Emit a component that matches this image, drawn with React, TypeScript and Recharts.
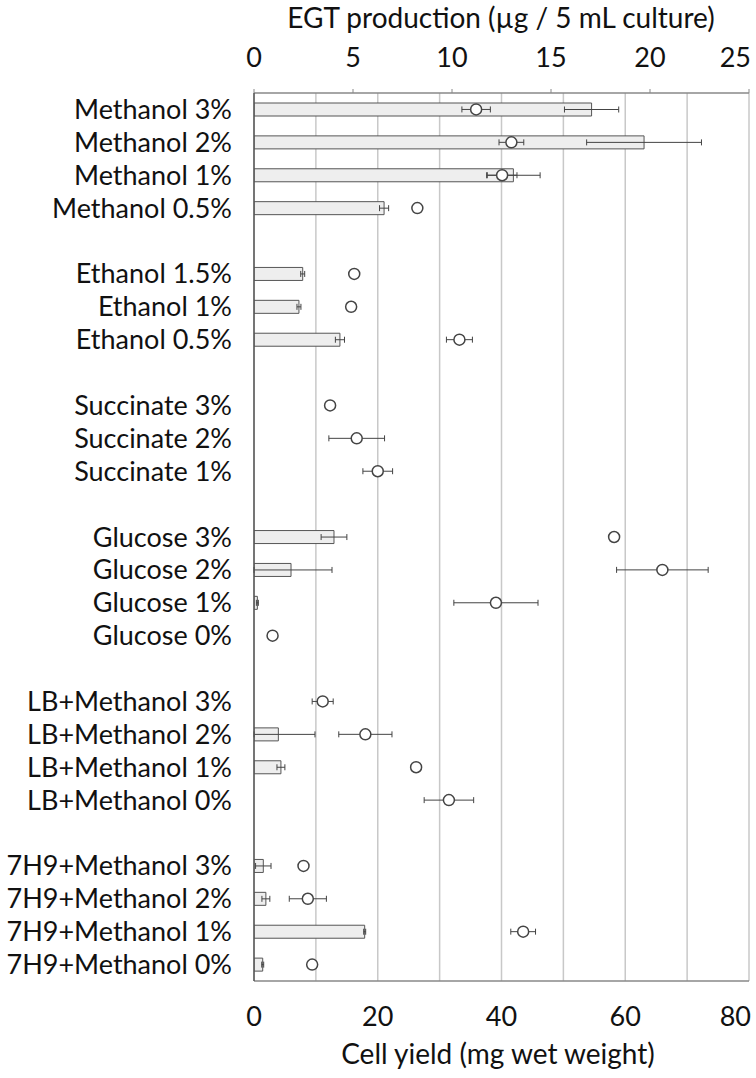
import { ComposedChart, Bar, Scatter, XAxis, YAxis, CartesianGrid, ErrorBar } from "recharts";

const categories = [
  "Methanol 3%", "Methanol 2%", "Methanol 1%", "Methanol 0.5%", "_1",
  "Ethanol 1.5%", "Ethanol 1%", "Ethanol 0.5%", "_2",
  "Succinate 3%", "Succinate 2%", "Succinate 1%", "_3",
  "Glucose 3%", "Glucose 2%", "Glucose 1%", "Glucose 0%", "_4",
  "LB+Methanol 3%", "LB+Methanol 2%", "LB+Methanol 1%", "LB+Methanol 0%", "_5",
  "7H9+Methanol 3%", "7H9+Methanol 2%", "7H9+Methanol 1%", "7H9+Methanol 0%",
];

// EGT production (µg / 5 mL culture) -> bars, top axis
const egtValues = [
  17.05, 19.7, 13.1, 6.57, null,
  2.46, 2.27, 4.34, null,
  0, 0, 0, null,
  4.04, 1.87, 0.17, 0, null,
  0, 1.23, 1.36, 0, null,
  0.47, 0.6, 5.59, 0.44,
];
const egtErrors = [
  1.37, 2.9, 1.35, 0.23, null,
  0.1, 0.1, 0.23, null,
  0, 0, 0, null,
  0.65, 2.07, 0.05, 0, null,
  0, 1.85, 0.2, 0, null,
  0.39, 0.2, 0.05, 0.05,
];

// Cell yield (mg wet weight) -> circles, bottom axis
const cellValues = [
  35.9, 41.6, 40.1, 26.4, null,
  16.2, 15.7, 33.2, null,
  12.3, 16.6, 20.0, null,
  58.2, 66.0, 39.1, 3.0, null,
  11.1, 18.0, 26.2, 31.5, null,
  8.0, 8.7, 43.5, 9.4,
];
const cellErrors = [
  2.3, 2.0, 2.4, 0, null,
  0.2, 0.3, 2.1, null,
  0, 4.5, 2.4, null,
  0.4, 7.4, 6.8, 0, null,
  1.7, 4.3, 0, 4.0, null,
  0.4, 3.0, 2.0, 0.2,
];

const egtTicks = [0, 5, 10, 15, 20, 25];
const cellTicks = [0, 10, 20, 30, 40, 50, 60, 70, 80];

// lower whisker stops at the axis (0), as in the original
const rows = categories.map((name, i) => {
  const v = egtValues[i];
  const e = egtErrors[i];
  return {
    name,
    egt: v,
    egtErr: v == null || !e ? null : [Math.min(e, v), e],
  };
});
const cellRows = categories
  .map((name, i) => ({ name, cell: cellValues[i], cellErr: cellErrors[i] }))
  .filter(r => r.cell !== null);

const FONT = "Lato, 'Open Sans', sans-serif";
const FS = 27;
const TICK = { fill: "#111", fontSize: FS, fontFamily: FONT };

// last tick label is pulled inside the frame, like the original
const makeTick = (last: number, fmt: (v: number) => string) => (p: any) => {
  const isLast = p.payload.value === last;
  return (
    <text
      x={isLast ? p.x + 2 : p.x}
      y={p.y}
      dy={p.verticalAnchor === "start" ? "0.71em" : 0}
      textAnchor={isLast ? "end" : "middle"}
      fill="#111"
      fontSize={FS}
      fontFamily={FONT}
    >
      {fmt(p.payload.value)}
    </text>
  );
};

const Circle = (p: any) => (
  <circle cx={p.cx} cy={p.cy} r={5.5} fill="#fff" stroke="#444" strokeWidth={1.5} />
);

export default function App() {
  return (
    <div style={{ position: "absolute", left: 0, top: 0, width: 756, height: 1078, background: "#fff", fontFamily: FONT }}>
      <ComposedChart
        width={756}
        height={1078}
        data={rows}
        layout="vertical"
        margin={{ top: 0, right: 7, bottom: 0, left: 0 }}
        barSize={13}
      >
        <CartesianGrid xAxisId="cell" horizontal={false} stroke="#c8c8c8" strokeWidth={1.5} />
        <XAxis
          xAxisId="egt"
          type="number"
          orientation="top"
          domain={[0, 25]}
          allowDataOverflow
          ticks={egtTicks}
          interval={0}
          height={93}
          tick={makeTick(25, v => String(v))}
          tickSize={4}
          tickMargin={22}
          tickLine={{ stroke: "#888" }}
          axisLine={{ stroke: "#888", strokeWidth: 1.5 }}
        />
        <XAxis
          xAxisId="cell"
          type="number"
          orientation="bottom"
          domain={[0, 80]}
          allowDataOverflow
          ticks={cellTicks}
          interval={0}
          height={97}
          tick={makeTick(80, v => (v % 20 === 0 ? String(v) : ""))}
          tickSize={0}
          tickMargin={26}
          tickLine={false}
          axisLine={{ stroke: "#888", strokeWidth: 1.5 }}
        />
        <YAxis
          type="category"
          dataKey="name"
          width={254}
          allowDuplicatedCategory={false}
          tick={TICK}
          tickFormatter={(v: string) => (v.startsWith("_") ? "" : v)}
          interval={0}
          tickSize={0}
          tickMargin={22}
          tickLine={false}
          axisLine={{ stroke: "#555", strokeWidth: 1.5 }}
        />
        <YAxis
          yAxisId="right"
          orientation="right"
          type="category"
          dataKey="name"
          width={0}
          allowDuplicatedCategory={false}
          tick={false}
          tickLine={false}
          axisLine={{ stroke: "#333", strokeWidth: 2 }}
        />
        <Bar dataKey="egt" xAxisId="egt" fill="#eeeeee" stroke="#555" strokeWidth={1} isAnimationActive={false}>
          <ErrorBar dataKey="egtErr" direction="x" width={3} stroke="#444" strokeWidth={1} />
        </Bar>
        <Scatter data={cellRows} dataKey="cell" xAxisId="cell" shape={Circle} isAnimationActive={false}>
          <ErrorBar dataKey="cellErr" direction="x" width={3} stroke="#444" strokeWidth={1} />
        </Scatter>
      </ComposedChart>
      <div style={{ position: "absolute", left: 0, top: 0, fontSize: 28, color: "#111", pointerEvents: "none" }}>
        <span style={{ position: "absolute", left: 501, transform: "translateX(-50%)", whiteSpace: "nowrap" }}>EGT production (µg / 5 mL culture)</span>
      </div>
      <div style={{ position: "absolute", left: 0, top: 1036, fontSize: 28, color: "#111", pointerEvents: "none" }}>
        <span style={{ position: "absolute", left: 498, transform: "translateX(-50%)", whiteSpace: "nowrap" }}>Cell yield (mg wet weight)</span>
      </div>
    </div>
  );
}
